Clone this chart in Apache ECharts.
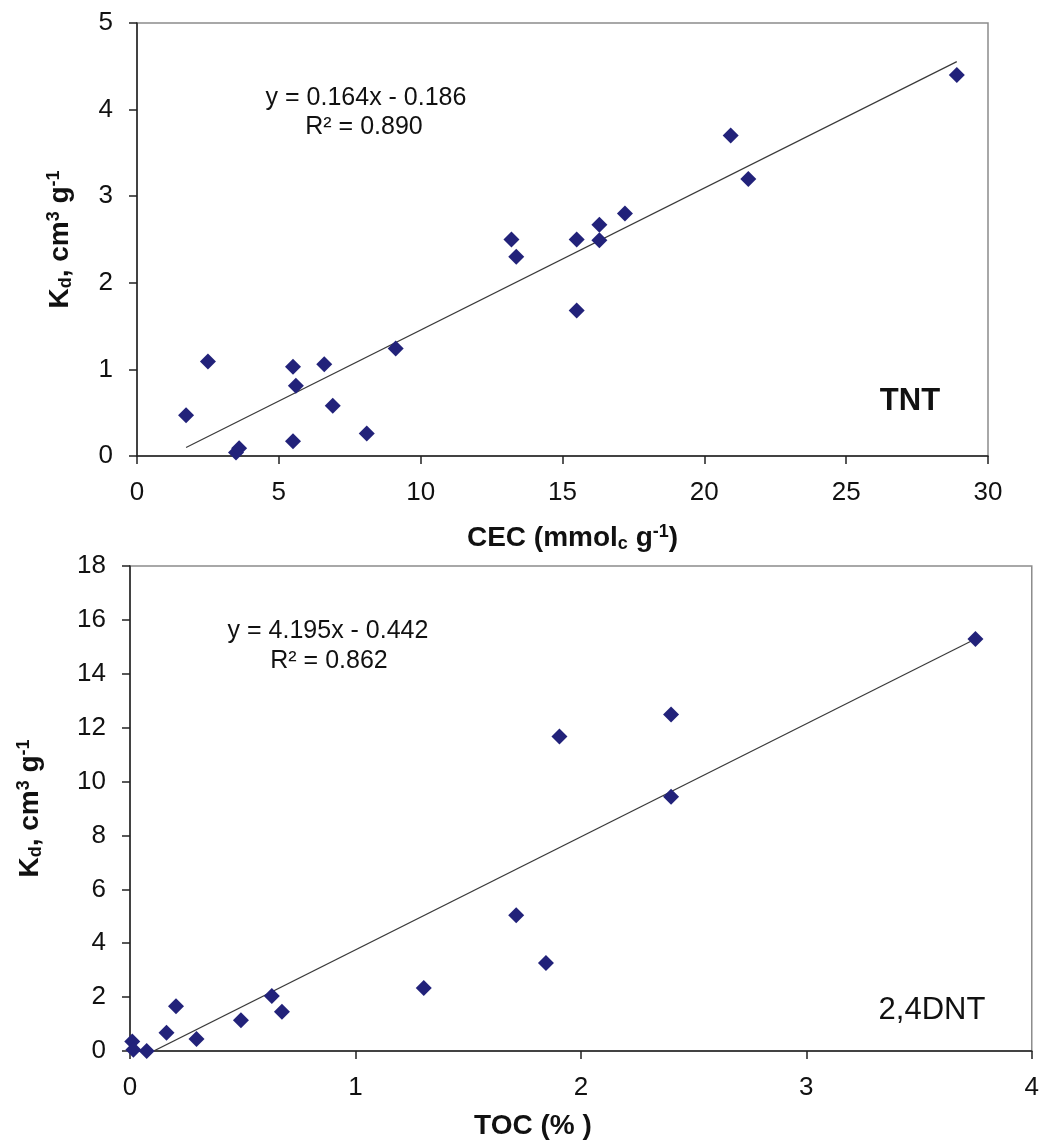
<!DOCTYPE html>
<html>
<head>
<meta charset="utf-8">
<script src="https://cdn.jsdelivr.net/npm/echarts@6/dist/echarts.min.js"></script>
<style>
  html, body { margin: 0; padding: 0; background: #fff; }
  #chart { width: 1042px; height: 1141px; }
</style>
</head>
<body>
<div id="chart"></div>
<script>
// TNT sorption coefficient vs. cation exchange capacity
const tntCEC = [1.73, 2.5, 3.49, 3.6, 5.5, 5.6, 5.5, 6.6, 6.9, 8.1, 9.12, 13.2, 13.37, 15.5, 15.5, 16.3, 16.3, 17.2, 20.93, 21.55, 28.9];
const tntKd  = [0.47, 1.09, 0.04, 0.09, 1.03, 0.81, 0.17, 1.06, 0.58, 0.26, 1.24, 2.50, 2.30, 2.50, 1.68, 2.67, 2.49, 2.80, 3.70, 3.20, 4.40];
const tntSlope = 0.164;
const tntIntercept = -0.186;
const tntR2 = '0.890';

// 2,4-DNT sorption coefficient vs. total organic carbon
const dntTOC = [0.01, 0.015, 0.074, 0.162, 0.204, 0.295, 0.492, 0.629, 0.674, 1.303, 1.713, 1.845, 1.905, 2.40, 2.40, 3.75];
const dntKd  = [0.35, 0.05, 0.0, 0.68, 1.66, 0.45, 1.14, 2.04, 1.46, 2.34, 5.04, 3.27, 11.67, 12.49, 9.44, 15.29];
const dntSlope = 4.195;
const dntIntercept = -0.442;
const dntR2 = '0.862';

// axis ranges and tick steps
const tntXTicks = [0, 5, 10, 15, 20, 25, 30];
const tntYTicks = [0, 1, 2, 3, 4, 5];
const dntXTicks = [0, 1, 2, 3, 4];
const dntYTicks = [0, 2, 4, 6, 8, 10, 12, 14, 16, 18];

const FONT = 'Liberation Sans, Arial, sans-serif';
const MARK = '#22227a';
const INK = '#111';

function zip(xs, ys) { return xs.map((x, i) => [x, ys[i]]); }
function fitLine(xs, slope, intercept) {
  const lo = Math.min(...xs), hi = Math.max(...xs);
  return [[lo, slope * lo + intercept], [hi, slope * hi + intercept]];
}
function fmt(v) { return (v < 0 ? '- ' : '+ ') + Math.abs(v).toFixed(3); }

const nameRich = {
  b:   { fontFamily: FONT, fontSize: 28, fontWeight: 'bold', color: INK },
  sub: { fontFamily: FONT, fontSize: 18, fontWeight: 'bold', color: INK, verticalAlign: 'bottom', padding: [12, 0, 0, 0] },
  sup: { fontFamily: FONT, fontSize: 18, fontWeight: 'bold', color: INK, verticalAlign: 'top', padding: [0, 0, 10, 0] }
};

function valueAxis(idx, ticks, extra) {
  return Object.assign({
    type: 'value',
    gridIndex: idx,
    min: ticks[0],
    max: ticks[ticks.length - 1],
    interval: ticks[1] - ticks[0],
    splitLine: { show: false },
    axisLine: { show: true, onZero: false, lineStyle: { color: '#222', width: 1.5 } },
    axisTick: { show: true, inside: false, length: 8, lineStyle: { color: '#222', width: 1.5 } },
    axisLabel: { fontFamily: FONT, fontSize: 26, color: INK, margin: 24 },
    nameLocation: 'middle'
  }, extra);
}

const yName = '{b|K}{sub|d}{b|, cm}{sup|3}{b| g}{sup|-1}';

function centered(x, y, text, font) {
  return { type: 'text', x: x, y: y, z: 10,
    style: { text: text, font: font, fill: INK, textAlign: 'center', textVerticalAlign: 'middle' } };
}

const option = {
  animation: false,
  backgroundColor: '#fff',
  grid: [
    { left: 137, top: 23, width: 851, height: 433, show: true, borderColor: '#8c8c8c', borderWidth: 1.5, backgroundColor: '#fff' },
    { left: 130, top: 566, width: 902, height: 486, show: true, borderColor: '#8c8c8c', borderWidth: 1.5, backgroundColor: '#fff' }
  ],
  xAxis: [
    valueAxis(0, tntXTicks, {
      name: '{b|CEC (mmol}{sub|c}{b| g}{sup|-1}{b|)}',
      nameGap: 67,
      nameTextStyle: { rich: nameRich, padding: [0, 0, 0, 20] }
    }),
    valueAxis(1, dntXTicks, {
      name: '{b|TOC (% )}',
      nameGap: 61,
      nameTextStyle: { rich: nameRich, padding: [0, 96, 0, 0] }
    })
  ],
  yAxis: [
    valueAxis(0, tntYTicks, {
      name: yName, nameRotate: 90, nameGap: 62,
      nameTextStyle: { rich: nameRich }
    }),
    valueAxis(1, dntYTicks, {
      name: yName, nameRotate: 90, nameGap: 85,
      nameTextStyle: { rich: nameRich }
    })
  ],
  series: [
    {
      type: 'line', xAxisIndex: 0, yAxisIndex: 0,
      data: fitLine(tntCEC, tntSlope, tntIntercept),
      showSymbol: false, clip: true,
      lineStyle: { color: '#3a3a3a', width: 1.2 }, z: 2
    },
    {
      type: 'scatter', xAxisIndex: 0, yAxisIndex: 0,
      data: zip(tntCEC, tntKd),
      symbol: 'diamond', symbolSize: [16, 16],
      itemStyle: { color: MARK, opacity: 1 }, z: 3
    },
    {
      type: 'line', xAxisIndex: 1, yAxisIndex: 1,
      data: fitLine(dntTOC, dntSlope, dntIntercept),
      showSymbol: false, clip: true,
      lineStyle: { color: '#3a3a3a', width: 1.2 }, z: 2
    },
    {
      type: 'scatter', xAxisIndex: 1, yAxisIndex: 1,
      data: zip(dntTOC, dntKd),
      symbol: 'diamond', symbolSize: [16, 16],
      itemStyle: { color: MARK, opacity: 1 }, z: 3
    }
  ],
  graphic: [
    centered(366, 98, 'y = ' + tntSlope.toFixed(3) + 'x ' + fmt(tntIntercept), '25px ' + FONT),
    centered(364, 127, 'R² = ' + tntR2, '25px ' + FONT),
    centered(910, 401, 'TNT', 'bold 31px ' + FONT),
    centered(328, 631, 'y = ' + dntSlope.toFixed(3) + 'x ' + fmt(dntIntercept), '25px ' + FONT),
    centered(329, 661, 'R² = ' + dntR2, '25px ' + FONT),
    centered(932, 1010, '2,4DNT', '31px ' + FONT)
  ]
};

const chart = echarts.init(document.getElementById('chart'), null, { renderer: 'canvas' });
chart.setOption(option);
</script>
</body>
</html>
